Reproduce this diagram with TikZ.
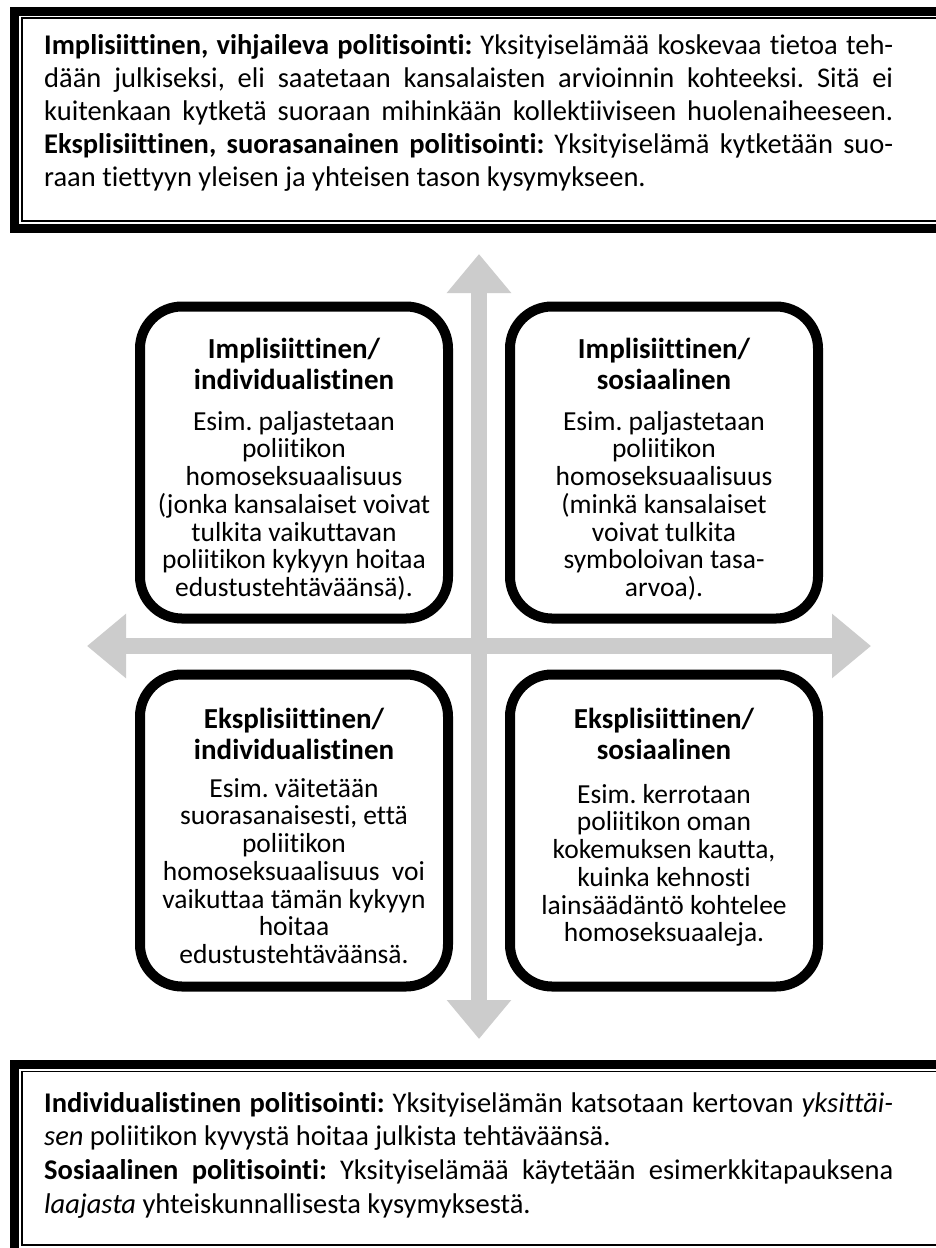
\documentclass[tikz,border=0pt]{standalone}
\usepackage{fontspec}
\setmainfont{Carlito}[Ligatures={NoCommon}]
\usetikzlibrary{shadows,arrows.meta}
\definecolor{arrowgray}{RGB}{204,204,204}
\newcommand\mystrut[1]{\rule{0pt}{#1}}
\newcommand\jline[1]{\makebox[849pt][s]{#1}}
\newcommand\nline[1]{\makebox[849pt][l]{#1}}
\frenchspacing
\begin{document}
\begin{tikzpicture}[x=1pt,y=-1pt,
  qbox/.style={draw=black, line width=10pt, rounded corners=42pt, fill=white,
    minimum width=308pt, minimum height=312pt, inner sep=0pt,
    drop shadow={shadow xshift=2pt, shadow yshift=-3pt, opacity=0.3}},
  qhead/.style={anchor=north, align=center, inner sep=0pt,
    font=\fontsize{29}{31}\selectfont\bfseries},
  qbody/.style={anchor=north, align=center, inner sep=0pt,
    font=\fontsize{27.5}{27.7}\selectfont},
  ptxt/.style={anchor=north west, align=left, inner sep=0pt,
    font=\fontsize{28.5}{33}\selectfont},
  garrow/.style={draw=arrowgray, line width=16pt,
    {Triangle[width=62pt,length=39pt]}-{Triangle[width=62pt,length=39pt]}},
  thickframe/.style={draw=black, line width=9pt},
  thinframe/.style={draw=black, line width=1.6pt}
]
\useasboundingbox (0,0) rectangle (936,1248);
\clip (0,0) rectangle (936,1248);
\fill[white] (0,0) rectangle (936,1248);

% top frame
\draw[thickframe] (960,11.5) -- (14.5,11.5) -- (14.5,228.5) -- (960,228.5);
\draw[thinframe] (960,18) -- (22,18) -- (22,221) -- (960,221);
% bottom frame
\draw[thickframe] (960,1064.5) -- (14.5,1064.5) -- (14.5,1260);
\draw[thinframe] (960,1071.5) -- (22,1071.5) -- (22,1245) -- (960,1245);

\node[ptxt] (toptext) at (44,30) {%
\mystrut{24pt}\jline{\textbf{Implisiittinen, vihjaileva politisointi:} Yksityiselämää koskevaa tietoa teh-}\\
\jline{dään julkiseksi, eli saatetaan kansalaisten arvioinnin kohteeksi. Sitä ei}\\
\jline{kuitenkaan kytketä suoraan mihinkään kollektiiviseen huolenaiheeseen.}\\
\jline{\textbf{Eksplisiittinen, suorasanainen politisointi:} Yksityiselämä kytketään suo-}\\
\nline{raan tiettyyn yleisen ja yhteisen tason kysymykseen.}};

\node[ptxt, font=\fontsize{28.5}{33.7}\selectfont] (bottext) at (44,1088) {%
\mystrut{24pt}\jline{\textbf{Individualistinen politisointi:} Yksityiselämän katsotaan kertovan \textit{yksittäi-}}\\
\nline{\textit{sen} poliitikon kyvystä hoitaa julkista tehtäväänsä.}\\
\jline{\textbf{Sosiaalinen politisointi:} Yksityiselämää käytetään esimerkkitapauksena}\\
\nline{\textit{laajasta} yhteiskunnallisesta kysymyksestä.}};

% axes
\coordinate (atop) at (479,254);
\coordinate (abot) at (479,1039);
\coordinate (aleft) at (87,646);
\coordinate (aright) at (871,646);
\draw[garrow] (atop) -- (abot);
\draw[garrow] (aleft) -- (aright);

% quadrant boxes
\node[qbox] (tl) at (294,462.5) {};
\node[qbox] (tr) at (664,462.5) {};
\node[qbox] (bl) at (294,830.5) {};
\node[qbox] (br) at (664,830.5) {};

\node[qhead] (tlh) at (294,335) {\mystrut{23pt}Implisiittinen/\\individualistinen};
\node[qbody] (tlb) at (294,409) {\mystrut{21pt}Esim. paljastetaan\\poliitikon\\homoseksuaalisuus\\(jonka kansalaiset voivat\\tulkita vaikuttavan\\poliitikon kykyyn hoitaa\\edustustehtäväänsä).};

\node[qhead] (trh) at (664,335) {\mystrut{23pt}Implisiittinen/\\sosiaalinen};
\node[qbody] (trb) at (664,409) {\mystrut{21pt}Esim. paljastetaan\\poliitikon\\homoseksuaalisuus\\(minkä kansalaiset\\voivat tulkita\\symboloivan tasa-\\arvoa).};

\node[qhead] (blh) at (294,705) {\mystrut{23pt}Eksplisiittinen/\\individualistinen};
\node[qbody] (blb) at (294,776) {\mystrut{21pt}Esim. väitetään\\suorasanaisesti, että\\poliitikon\\homoseksuaalisuus\ \ voi\\vaikuttaa tämän kykyyn\\hoitaa\\edustustehtäväänsä.};

\node[qhead] (brh) at (664,705) {\mystrut{23pt}Eksplisiittinen/\\sosiaalinen};
\node[qbody] (brb) at (664,782) {\mystrut{21pt}Esim. kerrotaan\\poliitikon oman\\kokemuksen kautta,\\kuinka kehnosti\\lainsäädäntö kohtelee\\homoseksuaaleja.};
\end{tikzpicture}
\end{document}
